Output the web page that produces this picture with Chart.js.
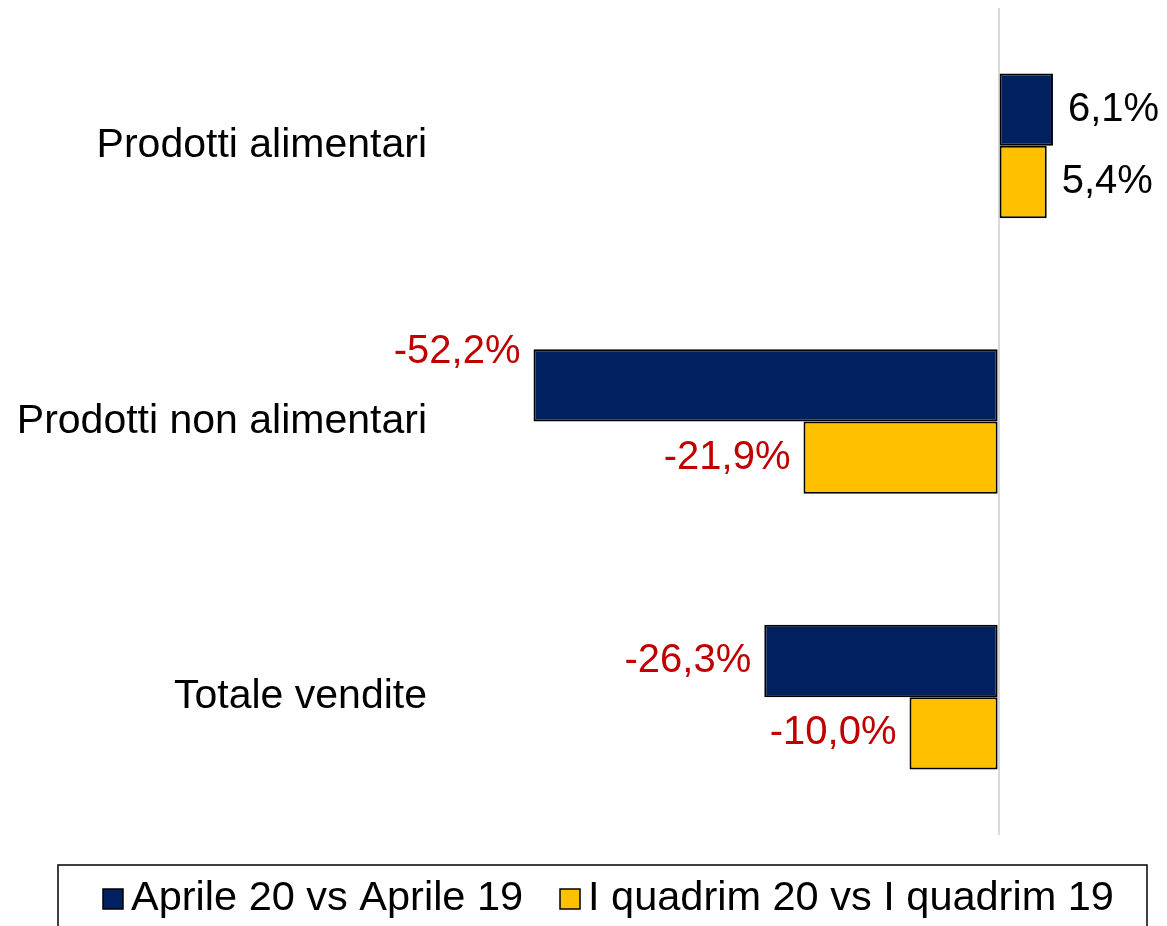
<!DOCTYPE html>
<html>
<head>
<meta charset="utf-8">
<script src="https://cdn.jsdelivr.net/npm/chart.js@4/dist/chart.umd.min.js"></script>
<style>
  html, body { margin: 0; padding: 0; background: #fff; }
  #wrap { width: 1167px; height: 926px; }
</style>
</head>
<body>
<div id="wrap"><canvas id="chart" width="1167" height="926"></canvas></div>
<script>
// Dati
const categories = ['Prodotti alimentari', 'Prodotti non alimentari', 'Totale vendite'];
const seriesNames = ['Aprile 20 vs Aprile 19', 'I quadrim 20 vs I quadrim 19'];
const aprile = [6.1, -52.2, -26.3];
const quadrim = [5.4, -21.9, -10.0];

const NAVY = '#002060';
const GOLD = '#FFC000';
const RED = '#C00000';
const FONT = "'Liberation Sans', Arial, sans-serif";

function fmt(v) {
    return v.toFixed(1).replace('.', ',') + '%';
}

// etichette dei valori accanto alle barre
const valueLabels = {
    id: 'valueLabels',
    afterDatasetsDraw(chart) {
        const ctx = chart.ctx;
        ctx.save();
        ctx.font = '40px ' + FONT;
        ctx.textBaseline = 'middle';
        chart.data.datasets.forEach((ds, di) => {
            const meta = chart.getDatasetMeta(di);
            meta.data.forEach((bar, i) => {
                const v = ds.data[i];
                let y = bar.y;
                // Excel ha spostato in alto l'etichetta piu' lunga
                if (di === 0 && i === 1) y -= 33;
                if (v >= 0) {
                    ctx.fillStyle = '#000';
                    ctx.textAlign = 'left';
                    ctx.fillText(fmt(v), bar.x + 15, y);
                } else {
                    ctx.fillStyle = RED;
                    ctx.textAlign = 'right';
                    ctx.fillText(fmt(v), bar.x - 13, y);
                }
            });
        });
        ctx.restore();
    }
};

// legenda con bordo, in basso
const boxedLegend = {
    id: 'boxedLegend',
    afterDraw(chart) {
        const ctx = chart.ctx;
        ctx.save();
        ctx.strokeStyle = '#000';
        ctx.lineWidth = 1.5;
        ctx.strokeRect(58, 865, 1089, 80);
        ctx.font = '41.5px ' + FONT;
        ctx.textBaseline = 'middle';
        ctx.textAlign = 'left';
        const starts = [103, 560];
        chart.data.datasets.forEach((ds, di) => {
            const x = starts[di];
            ctx.fillStyle = ds.backgroundColor;
            ctx.fillRect(x, 889, 20, 20);
            ctx.strokeStyle = '#000';
            ctx.lineWidth = 1.5;
            ctx.strokeRect(x, 889, 20, 20);
            ctx.fillStyle = '#000';
            ctx.fillText(ds.label, x + 28, 899);
        });
        ctx.restore();
    }
};

new Chart(document.getElementById('chart').getContext('2d'), {
    type: 'bar',
    data: {
        labels: categories,
        datasets: [
            { label: seriesNames[0], data: aprile, backgroundColor: NAVY, borderColor: '#000', borderWidth: 2, borderSkipped: false },
            { label: seriesNames[1], data: quadrim, backgroundColor: GOLD, borderColor: '#000', borderWidth: 2, borderSkipped: false }
        ]
    },
    options: {
        indexAxis: 'y',
        responsive: false,
        animation: false,
        layout: { padding: { top: 8, right: 8, bottom: 91, left: 0 } },
        datasets: { bar: { barPercentage: 1.0, categoryPercentage: 0.525 } },
        plugins: {
            legend: { display: false },
            tooltip: { enabled: false }
        },
        scales: {
            x: {
                position: 'bottom',
                min: -60,
                max: 18,
                ticks: { display: false, stepSize: 1 },
                border: { display: false },
                grid: {
                    drawTicks: false,
                    color: c => c.tick && c.tick.value === 0 ? '#d9d9d9' : 'rgba(0,0,0,0)',
                    lineWidth: 2
                },
                afterFit: s => { s.height = 0; }
            },
            y: {
                afterFit: s => { s.width = 464; s.paddingTop = 0; s.paddingBottom = 0; },
                border: { display: false },
                grid: { display: false, drawTicks: false },
                ticks: {
                    color: '#000',
                    padding: 37,
                    font: { family: FONT, size: 41 }
                }
            }
        }
    },
    plugins: [valueLabels, boxedLegend]
});
</script>
</body>
</html>
